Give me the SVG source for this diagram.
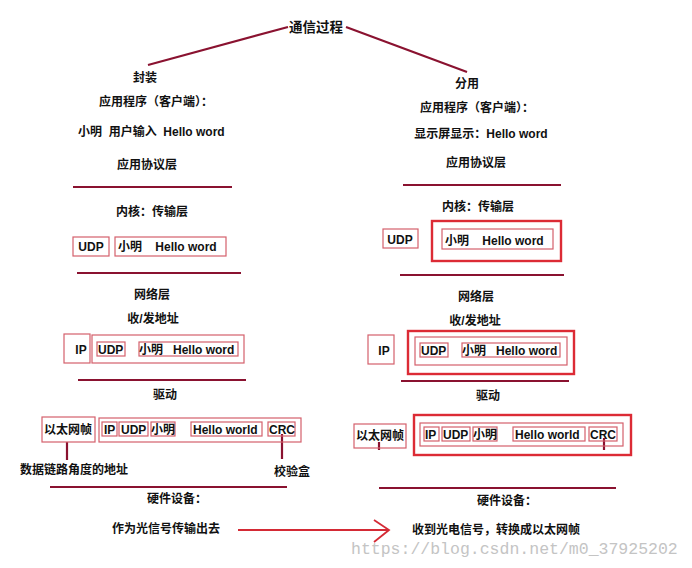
<svg xmlns="http://www.w3.org/2000/svg" width="692" height="568" viewBox="0 0 692 568">
<style>
text{font-family:"Liberation Sans","Noto Sans CJK SC",sans-serif;font-weight:bold;font-size:12px;fill:#111;white-space:pre}
.t{font-size:13.5px}
.hr{stroke:#8a1230;stroke-width:2.2;fill:none}
.b{fill:none;stroke:#d4606c;stroke-width:1.2}
.B{fill:none;stroke:#dc2b35;stroke-width:2.4}
.wm{font-family:"Liberation Mono",monospace;font-weight:normal;font-size:16.5px;fill:#c4c4c4}
</style>
<rect width="692" height="568" fill="#fff"/>
<g id="connectors">
<line class="hr" x1="288" y1="27" x2="148" y2="65"/>
<line class="hr" x1="346" y1="27" x2="467" y2="72"/>
<line class="hr" x1="73" y1="187" x2="232" y2="187"/>
<line class="hr" x1="77" y1="273" x2="241" y2="273"/>
<line class="hr" x1="78" y1="380" x2="246" y2="380"/>
<line class="hr" x1="50" y1="487" x2="287" y2="487"/>
<line class="hr" x1="403" y1="185" x2="561" y2="185"/>
<line class="hr" x1="400" y1="275" x2="564" y2="275"/>
<line class="hr" x1="401" y1="381" x2="569" y2="381"/>
<line class="hr" x1="379" y1="488" x2="616" y2="488"/>
<line class="hr" x1="67" y1="442" x2="67" y2="460"/>
<line class="hr" x1="282" y1="434" x2="282" y2="459"/>
<line class="hr" x1="379" y1="442" x2="379" y2="450"/>
<line class="hr" x1="604" y1="438" x2="604" y2="450"/>
<path d="M238,530 H388 M374,520 L389,530 L374,542" fill="none" stroke="#d42a35" stroke-width="1.8"/>
</g>
<g id="title"><text class="t" x="316" y="32" text-anchor="middle">通信过程</text></g>
<g id="left">
<text x="145" y="82" text-anchor="middle">封装</text>
<text x="156" y="106" text-anchor="middle">应用程序（客户端）：</text>
<text x="78" y="136">小明  用户输入  Hello word</text>
<text x="147" y="169" text-anchor="middle">应用协议层</text>
<text x="152" y="216" text-anchor="middle">内核：传输层</text>
<g id="l-udp"><rect class="b" x="73" y="237" width="36" height="19"/><text x="91" y="251" text-anchor="middle">UDP</text></g>
<g id="l-data"><rect class="b" x="115" y="237" width="111" height="19"/><text x="118" y="251">小明    Hello word</text></g>
<text x="152" y="299" text-anchor="middle">网络层</text>
<text x="153" y="323" text-anchor="middle">收/发地址</text>
<g id="l-ip"><rect class="b" x="64" y="334" width="26" height="29"/><text x="81" y="354" text-anchor="middle">IP</text></g>
<g id="l-ippkt"><rect class="b" x="92" y="335" width="152" height="28"/>
<rect class="b" x="97" y="342" width="28" height="14"/><text x="98" y="354">UDP</text>
<rect class="b" x="139" y="342" width="99" height="14"/><text x="139" y="354">小明   Hello word</text></g>
<text x="165" y="399" text-anchor="middle">驱动</text>
<g id="l-eth"><rect class="b" x="42" y="417" width="53" height="25"/><text x="68" y="434" text-anchor="middle">以太网帧</text></g>
<g id="l-frame"><rect class="b" x="99" y="418" width="202" height="24"/>
<rect class="b" x="102" y="422" width="15" height="14"/><text x="104" y="434">IP</text>
<rect class="b" x="119" y="422" width="29" height="14"/><text x="121" y="434">UDP</text>
<rect class="b" x="151" y="422" width="24" height="14"/><text x="151" y="434">小明</text>
<rect class="b" x="191" y="422" width="71" height="14"/><text x="193" y="434">Hello world</text>
<rect class="b" x="268" y="422" width="27" height="14"/><text x="269" y="434">CRC</text></g>
<text x="74" y="474" text-anchor="middle">数据链路角度的地址</text>
<text x="292" y="476" text-anchor="middle">校验盒</text>
<text x="177" y="503" text-anchor="middle">硬件设备：</text>
<text x="166" y="533" text-anchor="middle">作为光信号传输出去</text>
</g>
<g id="right">
<text x="467" y="88" text-anchor="middle">分用</text>
<text x="477" y="112" text-anchor="middle">应用程序（客户端）：</text>
<text x="481" y="138" text-anchor="middle">显示屏显示：Hello word</text>
<text x="476" y="167" text-anchor="middle">应用协议层</text>
<text x="478" y="211" text-anchor="middle">内核：传输层</text>
<g id="r-udp"><rect class="b" x="383" y="229" width="35" height="19"/><text x="400" y="244" text-anchor="middle">UDP</text></g>
<g id="r-data"><rect class="B" x="432" y="221" width="129" height="40"/><rect class="b" x="442" y="229" width="111" height="20"/><text x="445" y="245">小明    Hello word</text></g>
<text x="476" y="301" text-anchor="middle">网络层</text>
<text x="475" y="325" text-anchor="middle">收/发地址</text>
<g id="r-ip"><rect class="b" x="368" y="335" width="26" height="29"/><text x="384" y="355" text-anchor="middle">IP</text></g>
<g id="r-ippkt"><rect class="B" x="408" y="331" width="166" height="43"/><rect class="b" x="415" y="337" width="152" height="28"/>
<rect class="b" x="420" y="343" width="28" height="14"/><text x="421" y="355">UDP</text>
<rect class="b" x="462" y="343" width="98" height="14"/><text x="462" y="355">小明   Hello word</text></g>
<text x="488" y="400" text-anchor="middle">驱动</text>
<g id="r-eth"><rect class="b" x="354" y="424" width="52" height="24"/><text x="380" y="440" text-anchor="middle">以太网帧</text></g>
<g id="r-frame"><rect class="B" x="414" y="415" width="217" height="40"/><rect class="b" x="420" y="423" width="203" height="23"/>
<rect class="b" x="424" y="427" width="15" height="14"/><text x="425" y="439">IP</text>
<rect class="b" x="442" y="427" width="28" height="14"/><text x="443" y="439">UDP</text>
<rect class="b" x="473" y="427" width="24" height="14"/><text x="473" y="439">小明</text>
<rect class="b" x="513" y="427" width="72" height="14"/><text x="515" y="439">Hello world</text>
<rect class="b" x="589" y="427" width="28" height="14"/><text x="590" y="439">CRC</text></g>
<text x="507" y="505" text-anchor="middle">硬件设备：</text>
<text x="496" y="534" text-anchor="middle">收到光电信号，转换成以太网帧</text>
</g>
<text class="wm" x="351" y="554">https://blog.csdn.net/m0_37925202</text>
</svg>
